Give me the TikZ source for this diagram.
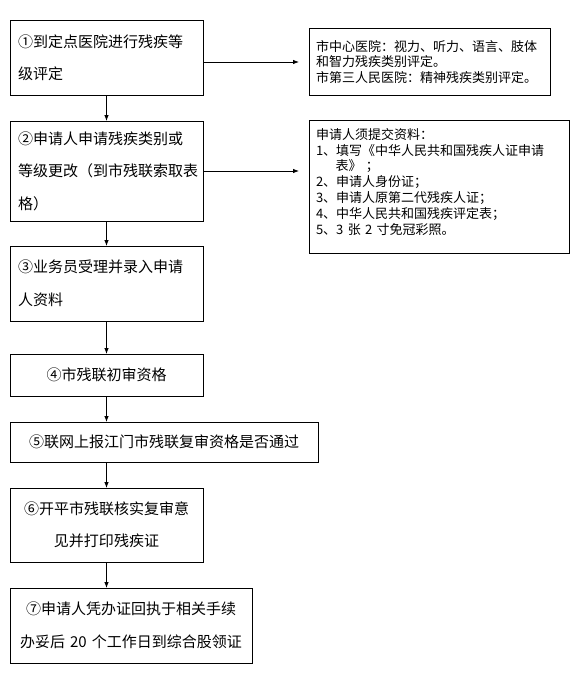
\documentclass[tikz,border=0pt]{standalone}
\usepackage{fontspec}
\setmainfont{Noto Sans CJK SC}
\usepackage{tikz}
\usetikzlibrary{arrows.meta, positioning}

\begin{document}
\begin{tikzpicture}[
    x=1pt, y=-1pt,
    stepbox/.style={
        draw=black,
        line width=1pt,
        outer sep=0pt,
        inner xsep=8pt,
        inner ysep=0pt,
        font=\fontsize{15}{32.5}\selectfont
    },
    notebox/.style={
        draw=black,
        line width=1pt,
        outer sep=0pt,
        inner xsep=7pt,
        inner ysep=0pt,
        align=left,
        font=\fontsize{13}{15.8}\selectfont
    },
    arrow/.style={-{Latex[length=6pt,width=4.5pt]}, line width=0.8pt}
]
\useasboundingbox (0,0) rectangle (580,677);

% main steps, left column
\node[stepbox, align=left, text width=177pt, minimum height=74pt, anchor=north west] (s1) at (10,21) {①到定点医院进行残疾等\\级评定};

\node[stepbox, align=left, text width=177pt, minimum height=100pt,
      below right=26pt and 0pt of s1.south west] (s2) {②申请人申请残疾类别或\\等级更改（到市残联索取表\\格）};

\node[stepbox, align=left, text width=177pt, minimum height=75pt,
      below right=25pt and 0pt of s2.south west] (s3) {③业务员受理并录入申请\\人资料};

\node[stepbox, align=center, text width=177pt, minimum height=42pt,
      below right=33pt and 0pt of s3.south west] (s4) {④市残联初审资格};

\node[stepbox, align=center, text width=292pt, minimum height=40pt,
      below right=26pt and 0pt of s4.south west] (s5) {⑤联网上报江门市残联复审资格是否通过};

\node[stepbox, align=center, text width=177pt, minimum height=74pt,
      below right=26pt and 0pt of s5.south west] (s6) {⑥开平市残联核实复审意\\见并打印残疾证};

\node[stepbox, align=center, text width=226pt, minimum height=75pt,
      below right=26pt and 0pt of s6.south west] (s7) {⑦申请人凭办证回执于相关手续\\办妥后 20 个工作日到综合股领证};

% notes, right column
\node[notebox, text width=227pt, minimum height=66pt,
      below right=8pt and 106pt of s1.north east] (n1) {市中心医院：视力、听力、语言、肢体\\和智力残疾类别评定。\\市第三人民医院：精神残疾类别评定。};

\node[notebox, text width=246pt, minimum height=133pt,
      below right=25pt and 0pt of n1.south west] (n2) {申请人须提交资料：\\1、填写《中华人民共和国残疾人证申请\\\hspace*{19.5pt}表》\ ；\\2、申请人身份证；\\3、申请人原第二代残疾人证；\\4、中华人民共和国残疾评定表；\\5、3 张 2 寸免冠彩照。\\[-5pt]\mbox{}};

\draw[arrow] (s1) -- (s2);
\draw[arrow] (s2) -- (s3);
\draw[arrow] (s3) -- (s4);
\draw[arrow] (s4.south) -- (s4.south |- s5.north);
\draw[arrow] (s6.north |- s5.south) -- (s6.north);
\draw[arrow] (s6.south) -- (s6.south |- s7.north);
\draw[arrow, shorten >=10pt] (s1.east |- n1.west) -- (n1.west);
\draw[arrow, shorten >=10pt] (s2.east) -- (s2.east -| n2.west);

\end{tikzpicture}
\end{document}
